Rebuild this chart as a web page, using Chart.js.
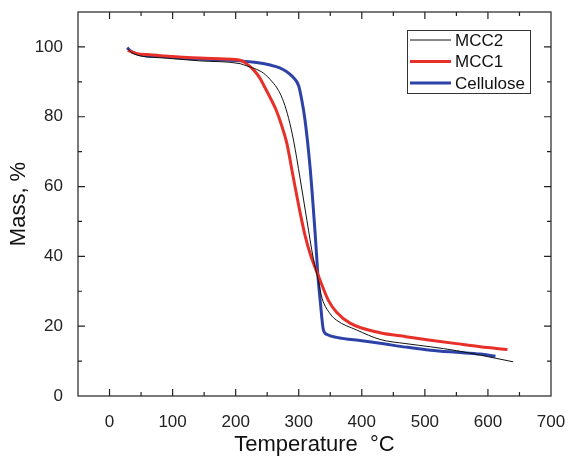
<!DOCTYPE html>
<html lang="en">
<head>
  <meta charset="UTF-8">
  <title>TGA curves</title>
  <script src="https://cdn.jsdelivr.net/npm/chart.js"></script>
  <style>
    body { margin: 0; background: #fff; }
    #wrap { width: 570px; height: 456px; }
  </style>
</head>
<body>
  <div id="wrap"><canvas id="tgaChart"></canvas></div>

  <script>
    // Temperature (°C) and mass (%)
    const mcc2Temp = [29, 35, 45, 60, 80, 143, 207, 217, 230, 244, 258, 268, 276, 284, 292, 302, 313, 323, 331, 337, 350, 360, 392, 429, 470, 509, 550, 588, 640];
    const mcc2Mass = [99.4, 98.4, 97.6, 97.1, 96.9, 96.0, 95.2, 94.6, 93.8, 92.5, 90.0, 87.5, 84.3, 79.5, 73.0, 62.5, 50.3, 39.5, 33.1, 28.0, 23.5, 21.7, 18.9, 16.2, 15.0, 14.1, 13.0, 11.7, 9.8];

    const mcc1Temp = [29, 35, 45, 60, 80, 143, 200, 210, 217, 228, 238, 246, 256, 264, 272, 281, 291, 300, 310, 318, 334, 347, 360, 382, 429, 470, 509, 550, 588, 631];
    const mcc1Mass = [99.0, 98.6, 98.0, 97.8, 97.5, 96.8, 96.4, 96.0, 95.2, 93.5, 91.2, 88.5, 85.0, 82.0, 78.0, 72.5, 63.0, 54.5, 46.0, 40.8, 33.1, 27.4, 24.0, 20.8, 18.1, 17.0, 16.0, 15.0, 14.1, 13.3];

    const celTemp = [28, 33, 40, 50, 80, 143, 207, 230, 255, 270, 280, 290, 300, 305, 310, 318, 326, 331, 334, 339, 345, 360, 400, 429, 470, 509, 550, 588, 612];
    const celMass = [99.8, 98.9, 98.2, 97.7, 97.3, 96.5, 96.0, 95.6, 94.8, 94.0, 93.0, 91.5, 88.8, 84.6, 79.0, 65.5, 46.6, 33.1, 27.4, 19.0, 17.6, 16.8, 15.8, 15.1, 14.0, 13.1, 12.5, 12.0, 11.4];

    const xTickValues = [0, 100, 200, 300, 400, 500, 600, 700];
    const yTickValues = [0, 20, 40, 60, 80, 100];

    const toPoints = (xs, ys) => xs.map((x, i) => ({ x, y: ys[i] }));
    const FONT = "'Liberation Sans', Arial, sans-serif";

    // frame, inward ticks on all four sides, legend in the upper right
    const framePlugin = {
      id: 'frame',
      afterDraw(chart) {
        const { ctx, chartArea: { left, right, top, bottom }, scales: { x, y } } = chart;
        ctx.save();
        ctx.strokeStyle = '#222';
        ctx.lineWidth = 1.2;
        ctx.strokeRect(left, top, right - left, bottom - top);

        ctx.beginPath();
        for (let v = 0; v < 700; v += 50) {
          const px = x.getPixelForValue(v);
          const len = v % 100 === 0 ? 7 : 4;
          ctx.moveTo(px, bottom); ctx.lineTo(px, bottom - len);
          ctx.moveTo(px, top); ctx.lineTo(px, top + len);
        }
        for (let v = 10; v < 110; v += 10) {
          const py = y.getPixelForValue(v);
          const len = v % 20 === 0 ? 7 : 4;
          ctx.moveTo(left, py); ctx.lineTo(left + len, py);
          ctx.moveTo(right, py); ctx.lineTo(right - len, py);
        }
        ctx.stroke();

        // legend box
        const bx = right - 144, by = top + 18, bw = 123, bh = 63;
        ctx.fillStyle = '#fff';
        ctx.fillRect(bx, by, bw, bh);
        ctx.lineWidth = 1;
        ctx.strokeStyle = '#333';
        ctx.strokeRect(bx + 0.5, by + 0.5, bw, bh);
        ctx.font = '17px ' + FONT;
        ctx.textBaseline = 'middle';
        ctx.fillStyle = '#111';
        chart.data.datasets.forEach((ds, i) => {
          const ry = by + 10 + i * 21.5;
          ctx.beginPath();
          ctx.strokeStyle = ds.borderColor;
          ctx.lineWidth = ds.borderWidth;
          ctx.moveTo(bx + 3, ry); ctx.lineTo(bx + 44, ry);
          ctx.stroke();
          ctx.fillText(ds.label, bx + 48, ry + 1);
        });
        ctx.restore();
      }
    };

    new Chart(document.getElementById('tgaChart'), {
      type: 'line',
      data: {
        datasets: [
          { label: 'MCC2', data: toPoints(mcc2Temp, mcc2Mass), borderColor: '#111', borderWidth: 1, cubicInterpolationMode: 'monotone' },
          { label: 'MCC1', data: toPoints(mcc1Temp, mcc1Mass), borderColor: '#e8302a', borderWidth: 3, cubicInterpolationMode: 'monotone' },
          { label: 'Cellulose', data: toPoints(celTemp, celMass), borderColor: '#2d42a6', borderWidth: 3, cubicInterpolationMode: 'monotone' }
        ]
      },
      options: {
        responsive: true,
        maintainAspectRatio: false,
        animation: false,
        elements: { point: { radius: 0 } },
        layout: { padding: { top: 12, right: 19, left: 0, bottom: 0 } },
        plugins: { legend: { display: false }, tooltip: { enabled: false } },
        scales: {
          x: {
            type: 'linear',
            min: -50, max: 700,
            grid: { display: false },
            border: { display: false },
            afterBuildTicks: s => { s.ticks = xTickValues.map(value => ({ value })); },
            afterFit: s => { s.height = 60; s.paddingLeft = 0; s.paddingRight = 0; },
            ticks: { padding: 8, color: '#222', font: { family: FONT, size: 17 } },
            title: { display: true, text: 'Temperature  °C', color: '#111', padding: 0, font: { family: FONT, size: 22, lineHeight: 1 } }
          },
          y: {
            min: 0, max: 110,
            grid: { display: false },
            border: { display: false },
            afterBuildTicks: s => { s.ticks = yTickValues.map(value => ({ value })); },
            afterFit: s => { s.width = 78; s.paddingTop = 0; s.paddingBottom = 0; },
            ticks: { padding: 7, color: '#222', font: { family: FONT, size: 17 } },
            title: { display: true, text: 'Mass, %', color: '#111', padding: { top: 8, bottom: 0 }, font: { family: FONT, size: 22, lineHeight: 1 } }
          }
        }
      },
      plugins: [framePlugin]
    });
  </script>
</body>
</html>
